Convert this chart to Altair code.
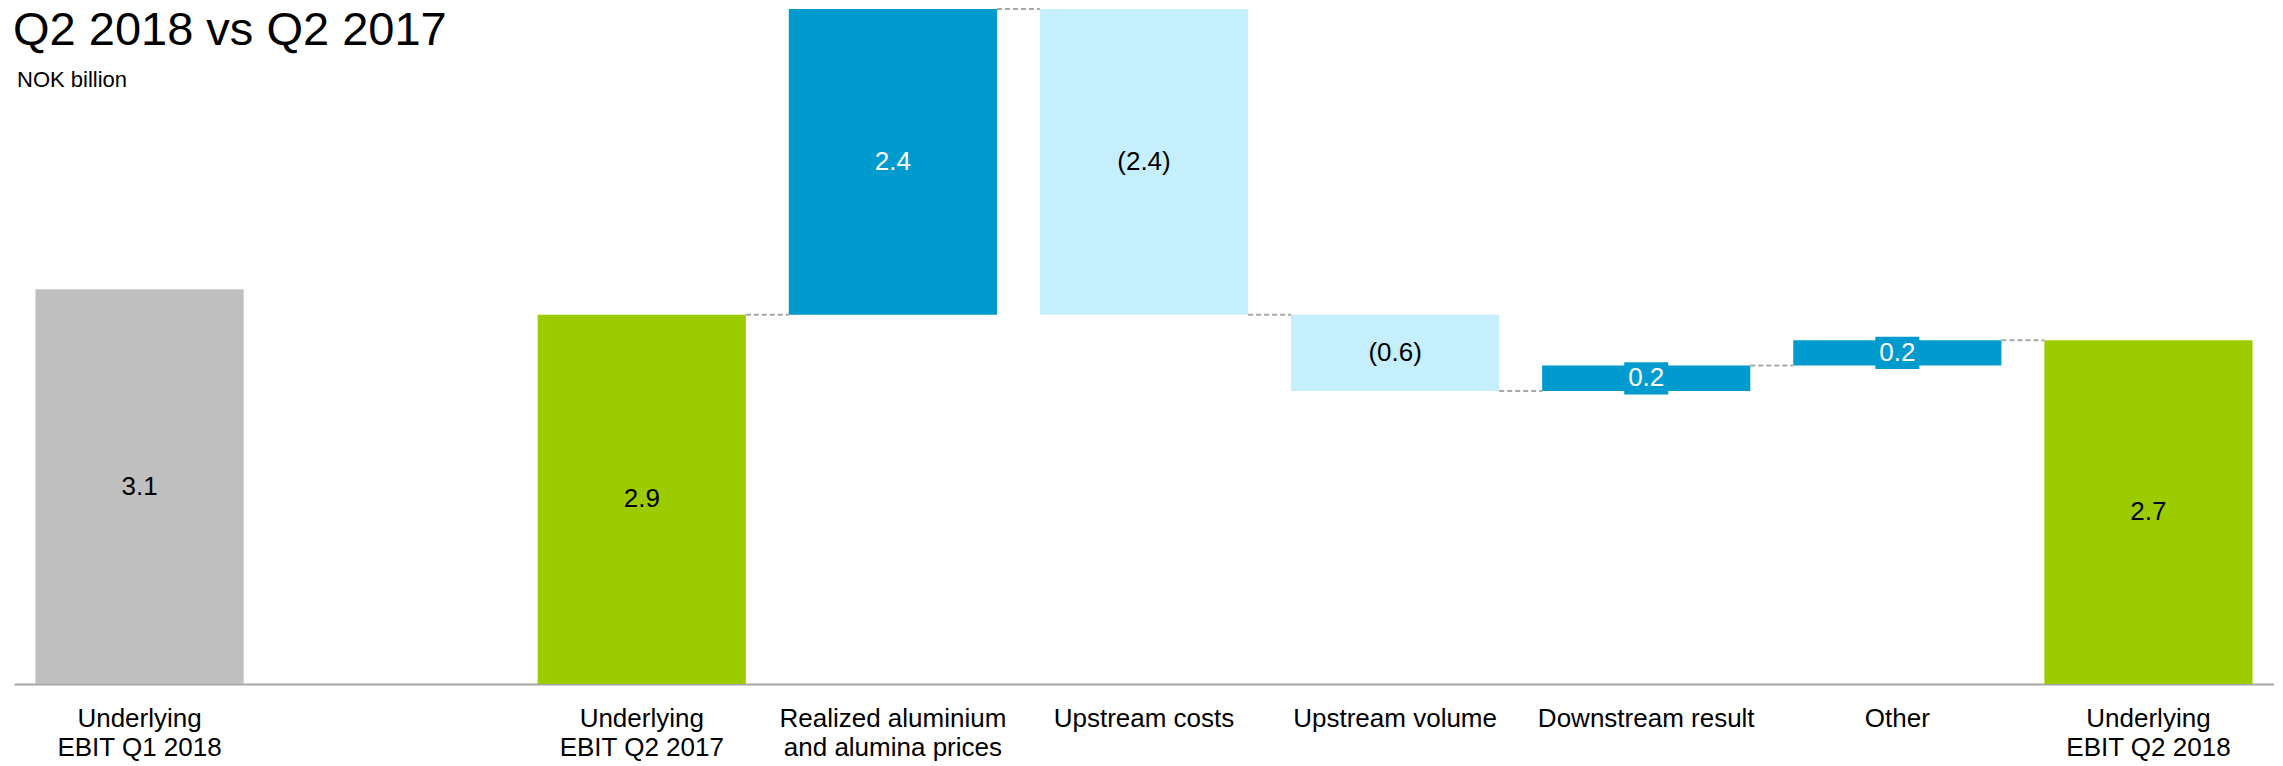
import altair as alt
import pandas as pd

FONT = "Liberation Sans, Arial, Helvetica, sans-serif"

# ---- data ----
categories = [
    "Underlying\nEBIT Q1 2018",
    "Underlying\nEBIT Q2 2017",
    "Realized aluminium\nand alumina prices",
    "Upstream costs",
    "Upstream volume",
    "Downstream result",
    "Other",
    "Underlying\nEBIT Q2 2018",
]
values = [3.1, 2.9, 2.4, -2.4, -0.6, 0.2, 0.2, 2.7]
kinds = ["prior", "total", "delta", "delta", "delta", "delta", "delta", "total"]
value_labels = ["3.1", "2.9", "2.4", "(2.4)", "(0.6)", "0.2", "0.2", "2.7"]
gap_slot = " "
x_order = [categories[0], gap_slot] + categories[1:]

title_text = "Q2 2018 vs Q2 2017"
unit_text = "NOK billion"

kind_domain = ["prior", "total", "up", "down"]
kind_colors = ["#bfbfbf", "#9ccc00", "#009bce", "#c5effd"]
text_colors = {"prior": "#000000", "total": "#000000", "up": "#ffffff", "down": "#000000"}

# ---- build tables ----
rows = []
running = 0.0
for c, v, k, t in zip(categories, values, kinds, value_labels):
    if k in ("prior", "total"):
        start, end = 0.0, v
        if k == "total":
            running = v
        kk = k
    else:
        start, end = running, running + v
        running = end
        kk = "up" if v > 0 else "down"
    rows.append(dict(cat=c, start=start, end=end, mid=(start + end) / 2,
                     kind=kk, text=t, tcolor=text_colors[kk], small=abs(v) < 0.3 and k == "delta"))
df = pd.DataFrame(rows)

conn_rows = []
for i in range(1, len(categories) - 1):
    conn_rows.append(dict(cat=categories[i], nxt=categories[i + 1], level=rows[i]["end"]))
conn = pd.DataFrame(conn_rows)

box_half = 0.126
box = df[df["small"]].copy()
box["lo"] = box["mid"] - box_half
box["hi"] = box["mid"] + box_half

xscale = alt.Scale(domain=x_order, paddingInner=0.171, paddingOuter=0.0855)
yscale = alt.Scale(domain=[0, 5.3], nice=False, zero=True)
xaxis = alt.Axis(labels=False, ticks=False, title=None, grid=False,
                 domainColor="#a6a6a6", domainWidth=2)

bars = alt.Chart(df).mark_bar().encode(
    x=alt.X("cat:N", scale=xscale, axis=xaxis, sort=x_order),
    y=alt.Y("start:Q", scale=yscale, axis=None),
    y2="end:Q",
    color=alt.Color("kind:N", scale=alt.Scale(domain=kind_domain, range=kind_colors), legend=None),
)

rules = alt.Chart(conn).mark_rule(strokeDash=[5, 3], color="#a6a6a6", strokeWidth=2).encode(
    x=alt.X("cat:N", bandPosition=1),
    x2=alt.X2("nxt:N", bandPosition=0),
    y=alt.Y("level:Q"),
)

boxes = alt.Chart(box).mark_bar(width=44, color="#009bce").encode(
    x=alt.X("cat:N"),
    y=alt.Y("lo:Q"),
    y2="hi:Q",
)

vlabels = alt.Chart(df).mark_text(font=FONT, fontSize=26, baseline="middle", align="center").encode(
    x=alt.X("cat:N"),
    y=alt.Y("mid:Q"),
    text="text:N",
    color=alt.Color("tcolor:N", scale=None),
)

catlabels = alt.Chart(df).mark_text(font=FONT, fontSize=26, baseline="alphabetic", align="center",
                                    lineBreak="\n", lineHeight=29, color="#000000").encode(
    x=alt.X("cat:N"),
    y=alt.value(718),
    text="cat:N",
)

title = alt.Chart(pd.DataFrame({"t": [title_text]})).mark_text(
    font=FONT, fontSize=47, align="left", baseline="alphabetic", color="#000000").encode(
    x=alt.value(-1), y=alt.value(36), text="t:N")

unit = alt.Chart(pd.DataFrame({"t": [unit_text]})).mark_text(
    font=FONT, fontSize=22, align="left", baseline="alphabetic", color="#000000").encode(
    x=alt.value(3), y=alt.value(78), text="t:N")

chart = alt.layer(bars, rules, boxes, vlabels, catlabels, title, unit).properties(
    width=2260, height=675,
    padding={"left": 6, "top": 1, "right": 0, "bottom": 80},
    autosize=alt.AutoSizeParams(type="none"),
).configure_view(stroke=None)

chart.save("out.html", embed_options={"renderer": "svg", "actions": False})
